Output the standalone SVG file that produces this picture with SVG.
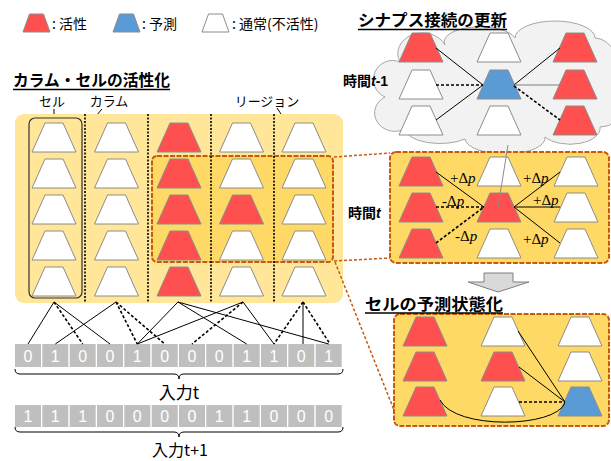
<svg xmlns="http://www.w3.org/2000/svg" width="611" height="461" viewBox="0 0 611 461">
<defs>
<style>
 .jp{font-family:'Noto Sans CJK JP','Noto Sans',sans-serif;fill:#000}
 .ttl{font-size:16px;font-weight:bold}
 .lab{font-size:13px;text-anchor:middle}
 .leg{font-size:14px}
 .w{fill:#fff;stroke:#8c8c8c;stroke-width:1}
 .r{fill:#FF5050;stroke:#8c8c8c;stroke-width:1}
 .b{fill:#5B9BD5;stroke:#8c8c8c;stroke-width:1}
 .ln{stroke:#000;stroke-width:1;fill:none}
 .dl{stroke:#000;stroke-width:1.6;stroke-dasharray:3 2;fill:none}
 .sep{stroke:#000;stroke-width:1.6;stroke-dasharray:2 1.5}
 .bit{fill:#BFBFBF}
 .bt{font-family:'Liberation Sans',sans-serif;font-size:16px;fill:#fff;text-anchor:middle}
 .od{stroke:#C55A11;stroke-width:1.5;stroke-dasharray:3 2;fill:none}
 .pan{fill:#FFD966;stroke:#C55A11;stroke-width:2;stroke-dasharray:5 1.5}
 .dp{font-family:'Liberation Serif',serif;font-size:15px;fill:#000}
 .ul{stroke:#000;stroke-width:1.5}
</style>
<path id="c" d="M0,29 L13,0 L31,0 L44,29 Z"/>
<path id="lg" d="M0,18 L6.5,0 L20.5,0 L27,18 Z"/>
</defs>

<!-- cloud panel (t-1) -->
<g id="cloud">
 <path d="M400,62 A24,20 0 0 1 445,45 A36,15 0 0 1 515,38 A40,17 0 0 1 595,38 A22,26 0 0 1 612,80 A25,25 0 0 1 600,127 A30,16 0 0 1 545,137 A40,16 0 0 1 465,139 A35,15 0 0 1 405,129 A20,18 0 0 1 385,97 A18,18 0 0 1 400,62 Z" fill="#F2F2F2" stroke="#A6A6A6" stroke-width="1"/>
 <text class="jp" x="343" y="86" font-size="14" font-weight="bold">時間<tspan font-family="'Liberation Sans',sans-serif" font-style="italic">t</tspan><tspan font-family="'Liberation Sans',sans-serif">-1</tspan></text>
</g>

<!-- legend -->
<g id="legend">
 <use href="#lg" x="23" y="14" class="r"/>
 <text class="jp leg" x="52" y="29">: 活性</text>
 <use href="#lg" x="113" y="14" class="b"/>
 <text class="jp leg" x="142" y="29">: 予測</text>
 <use href="#lg" x="202" y="14" class="w"/>
 <text class="jp leg" x="232" y="29">: 通常(不活性)</text>
</g>

<!-- titles -->
<g id="title-columns">
 <text class="jp ttl" x="13" y="86" textLength="157" lengthAdjust="spacingAndGlyphs">カラム・セルの活性化</text>
 <line class="ul" x1="13" y1="89.5" x2="170" y2="89.5"/>
</g>
<g id="title-synapse">
 <text class="jp ttl" x="358" y="26" textLength="149" lengthAdjust="spacingAndGlyphs">シナプス接続の更新</text>
 <line class="ul" x1="358" y1="29.5" x2="507" y2="29.5"/>
</g>

<!-- labels -->
<g id="label-cell">
 <text class="jp lab" x="52" y="106">セル</text>
 <line class="ln" x1="54" y1="109" x2="54" y2="141"/>
</g>
<g id="label-column">
 <text class="jp lab" x="109" y="106">カラム</text>
 <line class="ln" x1="102" y1="109" x2="83" y2="131"/>
</g>
<g id="label-region">
 <text class="jp lab" x="267" y="106">リージョン</text>
 <line class="ln" x1="277" y1="108" x2="281" y2="114"/>
</g>

<!-- main panel -->
<g id="panel">
 <rect x="15" y="114" width="328" height="189" rx="9" fill="#FFE699"/>
 <rect id="region" x="152" y="156" width="181" height="106" rx="5" class="pan"/>
 <line class="sep" x1="85" y1="114" x2="85" y2="302"/>
 <line class="sep" x1="148" y1="114" x2="148" y2="302"/>
 <line class="sep" x1="211" y1="114" x2="211" y2="302"/>
 <line class="sep" x1="274" y1="114" x2="274" y2="302"/>
 <rect x="29" y="118" width="53" height="180" rx="6" fill="none" stroke="#333" stroke-width="1.2"/>
</g>
<g id="column1">
 <use href="#c" x="32" y="123" class="w"/><use href="#c" x="32" y="159" class="w"/><use href="#c" x="32" y="195" class="w"/><use href="#c" x="32" y="231" class="w"/><use href="#c" x="32" y="267" class="w"/>
</g>
<g id="column2">
 <use href="#c" x="94.5" y="123" class="w"/><use href="#c" x="94.5" y="159" class="w"/><use href="#c" x="94.5" y="195" class="w"/><use href="#c" x="94.5" y="231" class="w"/><use href="#c" x="94.5" y="267" class="w"/>
</g>
<g id="column3">
 <use href="#c" x="157" y="123" class="r"/><use href="#c" x="157" y="159" class="r"/><use href="#c" x="157" y="195" class="r"/><use href="#c" x="157" y="231" class="r"/><use href="#c" x="157" y="267" class="r"/>
</g>
<g id="column4">
 <use href="#c" x="219.5" y="123" class="w"/><use href="#c" x="219.5" y="159" class="w"/><use href="#c" x="219.5" y="195" class="r"/><use href="#c" x="219.5" y="231" class="w"/><use href="#c" x="219.5" y="267" class="w"/>
</g>
<g id="column5">
 <use href="#c" x="282" y="123" class="w"/><use href="#c" x="282" y="159" class="w"/><use href="#c" x="282" y="195" class="w"/><use href="#c" x="282" y="231" class="w"/><use href="#c" x="282" y="267" class="w"/>
</g>

<!-- input bits -->
<g id="input-t">
 <rect class="bit" x="15" y="344" width="26" height="23"/><rect class="bit" x="42.3" y="344" width="26" height="23"/><rect class="bit" x="69.7" y="344" width="26" height="23"/><rect class="bit" x="97" y="344" width="26" height="23"/><rect class="bit" x="124.3" y="344" width="26" height="23"/><rect class="bit" x="151.7" y="344" width="26" height="23"/><rect class="bit" x="179" y="344" width="26" height="23"/><rect class="bit" x="206.3" y="344" width="26" height="23"/><rect class="bit" x="233.7" y="344" width="26" height="23"/><rect class="bit" x="261" y="344" width="26" height="23"/><rect class="bit" x="288.3" y="344" width="26" height="23"/><rect class="bit" x="315.7" y="344" width="26" height="23"/>
 <text class="bt" x="28" y="362">0</text><text class="bt" x="55.3" y="362">1</text><text class="bt" x="82.7" y="362">0</text><text class="bt" x="110" y="362">0</text><text class="bt" x="137.3" y="362">1</text><text class="bt" x="164.7" y="362">0</text><text class="bt" x="192" y="362">0</text><text class="bt" x="219.3" y="362">0</text><text class="bt" x="246.7" y="362">1</text><text class="bt" x="274" y="362">1</text><text class="bt" x="301.3" y="362">0</text><text class="bt" x="328.7" y="362">1</text>
 <path class="ln" d="M15,369 Q15,374 20,374 L174,374 Q179,374 179,379 Q179,374 184,374 L338,374 Q343,374 343,369"/>
 <text class="jp" x="179" y="399" font-size="17" text-anchor="middle">入力t</text>
</g>
<g id="input-t1">
 <rect class="bit" x="15" y="405" width="26" height="22"/><rect class="bit" x="42.3" y="405" width="26" height="22"/><rect class="bit" x="69.7" y="405" width="26" height="22"/><rect class="bit" x="97" y="405" width="26" height="22"/><rect class="bit" x="124.3" y="405" width="26" height="22"/><rect class="bit" x="151.7" y="405" width="26" height="22"/><rect class="bit" x="179" y="405" width="26" height="22"/><rect class="bit" x="206.3" y="405" width="26" height="22"/><rect class="bit" x="233.7" y="405" width="26" height="22"/><rect class="bit" x="261" y="405" width="26" height="22"/><rect class="bit" x="288.3" y="405" width="26" height="22"/><rect class="bit" x="315.7" y="405" width="26" height="22"/>
 <text class="bt" x="28" y="422">1</text><text class="bt" x="55.3" y="422">1</text><text class="bt" x="82.7" y="422">1</text><text class="bt" x="110" y="422">0</text><text class="bt" x="137.3" y="422">0</text><text class="bt" x="164.7" y="422">0</text><text class="bt" x="192" y="422">0</text><text class="bt" x="219.3" y="422">1</text><text class="bt" x="246.7" y="422">1</text><text class="bt" x="274" y="422">0</text><text class="bt" x="301.3" y="422">0</text><text class="bt" x="328.7" y="422">0</text>
 <path class="ln" d="M15,427 Q15,432 20,432 L174,432 Q179,432 179,437 Q179,432 184,432 L338,432 Q343,432 343,427"/>
 <text class="jp" x="180" y="456" font-size="16" text-anchor="middle">入力t+1</text>
</g>

<g id="cloud-cells">
 <use href="#c" x="399" y="33" class="r"/><use href="#c" x="399" y="70" class="w"/><use href="#c" x="399" y="106" class="w"/>
 <use href="#c" x="477" y="33" class="w"/><use href="#c" x="477" y="70" class="b"/><use href="#c" x="477" y="106" class="w"/>
 <use href="#c" x="553" y="33" class="r"/><use href="#c" x="553" y="70" class="r"/><use href="#c" x="553" y="106" class="r"/>
</g>

<!-- time t panel -->
<g id="panel-t">
 <rect x="390" y="152" width="219" height="111" rx="6" class="pan"/>
 <text class="jp" x="348" y="218" font-size="14" font-weight="bold">時間<tspan font-family="'Liberation Sans',sans-serif" font-style="italic">t</tspan></text>
 <use href="#c" x="399" y="157" class="r"/><use href="#c" x="399" y="193" class="r"/><use href="#c" x="399" y="229" class="r"/>
 <use href="#c" x="477" y="157" class="w"/><use href="#c" x="477" y="193" class="r"/><use href="#c" x="477" y="229" class="w"/>
 <use href="#c" x="554" y="157" class="w"/><use href="#c" x="554" y="193" class="w"/><use href="#c" x="554" y="229" class="w"/>
</g>

<!-- arrow -->
<g id="arrow">
 <polygon points="484,273 513,273 513,282 529,282 498,292 468,282 484,282" fill="#D9D9D9" stroke="#7F7F7F" stroke-width="1"/>
</g>

<!-- prediction panel -->
<g id="panel-predict">
 <rect x="394" y="314" width="215" height="112" rx="6" class="pan"/>
 <use href="#c" x="403" y="317" class="r"/><use href="#c" x="403" y="352" class="r"/><use href="#c" x="403" y="387" class="r"/>
 <use href="#c" x="481" y="317" class="w"/><use href="#c" x="481" y="352" class="r"/><use href="#c" x="481" y="387" class="w"/>
 <use href="#c" x="558" y="317" class="w"/><use href="#c" x="558" y="352" class="w"/><use href="#c" x="558" y="387" class="b"/>
</g>
<g id="title-predict">
 <text class="jp ttl" x="365" y="310" textLength="138" lengthAdjust="spacingAndGlyphs">セルの予測状態化</text>
 <line class="ul" x1="365" y1="313" x2="503" y2="313"/>
</g>

<!-- connectors -->
<g id="connectors">
 <line class="ln" x1="54" y1="302" x2="28" y2="344"/>
 <line class="dl" x1="54" y1="302" x2="82.7" y2="344"/>
 <line class="ln" x1="54" y1="302" x2="110" y2="344"/>
 <line class="ln" x1="116" y1="302" x2="55.3" y2="344"/>
 <line class="dl" x1="116" y1="302" x2="137.3" y2="344"/>
 <line class="dl" x1="116" y1="302" x2="164.7" y2="344"/>
 <line class="ln" x1="178" y1="302" x2="137.3" y2="344"/>
 <line class="ln" x1="178" y1="302" x2="246.7" y2="344"/>
 <line class="ln" x1="178" y1="302" x2="328.7" y2="344"/>
 <line class="ln" x1="243" y1="302" x2="137.3" y2="344"/>
 <line class="dl" x1="243" y1="302" x2="192" y2="344"/>
 <line class="ln" x1="243" y1="302" x2="274" y2="344"/>
 <line class="dl" x1="303" y1="302" x2="274" y2="344"/>
 <line class="ln" x1="303" y1="302" x2="303" y2="344"/>
 <line class="dl" x1="303" y1="302" x2="330" y2="344"/>
 <line class="od" x1="334" y1="157" x2="390" y2="153"/>
 <line class="od" x1="334" y1="261" x2="390" y2="258"/>
 <line class="od" x1="335" y1="262" x2="394" y2="410"/>
 <line class="ln" x1="436" y1="48" x2="483" y2="85"/>
 <line class="dl" x1="436" y1="85" x2="483" y2="85"/>
 <line class="ln" x1="436" y1="120" x2="483" y2="85"/>
 <line class="ln" x1="514" y1="85" x2="560" y2="48"/>
 <line x1="514" y1="85" x2="559" y2="85" stroke="#7F7F7F" stroke-width="1.2"/>
 <line class="dl" x1="514" y1="86" x2="560" y2="120"/>
 <line x1="508" y1="145" x2="498" y2="207" stroke="#8c8c8c" stroke-width="1"/>
 <line class="ln" x1="436" y1="172" x2="484" y2="207"/>
 <line class="dl" x1="436" y1="207" x2="484" y2="207"/>
 <line class="dl" x1="436" y1="243" x2="484" y2="207"/>
 <line class="ln" x1="514" y1="207" x2="560" y2="172"/>
 <line class="ln" x1="514" y1="207" x2="560" y2="207"/>
 <line class="ln" x1="514" y1="207" x2="560" y2="243"/>
 <text class="dp" x="450" y="183">+Δ<tspan font-style="italic">p</tspan></text>
 <text class="dp" x="523" y="183">+Δ<tspan font-style="italic">p</tspan></text>
 <text class="dp" x="442" y="206">-Δ<tspan font-style="italic">p</tspan></text>
 <text class="dp" x="533" y="205">+Δ<tspan font-style="italic">p</tspan></text>
 <text class="dp" x="455" y="241">-Δ<tspan font-style="italic">p</tspan></text>
 <text class="dp" x="523" y="244">+Δ<tspan font-style="italic">p</tspan></text>
 <line class="ln" x1="518" y1="331" x2="565" y2="402"/>
 <line class="ln" x1="519" y1="367" x2="565" y2="402"/>
 <line class="dl" x1="519" y1="402" x2="565" y2="402"/>
 <path class="ln" d="M440,400 C455,430 555,428 565,403"/>
</g>
</svg>
